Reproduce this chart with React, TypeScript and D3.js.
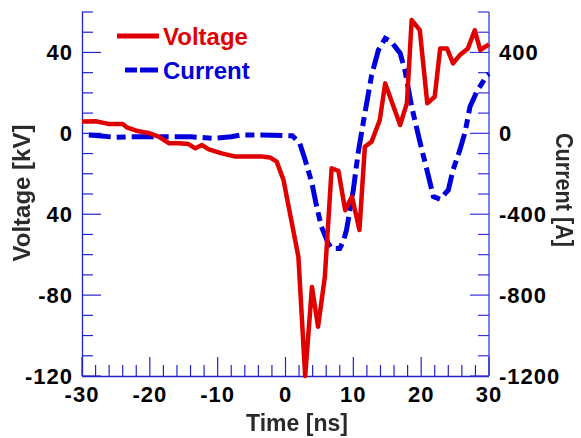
import React from "react";
import * as d3 from "d3";

const voltageTime = [-30, -28, -27, -26, -24, -23.4, -22, -20, -18.7, -17.2, -15.7, -14.3, -13.3, -12.3, -11.3, -9.4, -7.4, -3.5, -2.3, -1.3, -0.3, 0.8, 1.9, 2.9, 3.9, 4.8, 5.8, 6.8, 7.8, 8.8, 9.8, 10.9, 11.7, 12.7, 13.9, 14.7, 16.9, 17.9, 18.6, 19.8, 20.9, 22.0, 22.8, 23.8, 24.7, 25.7, 26.9, 27.9, 28.7, 30];
const voltageValues = [5.8, 6.0, 5.3, 4.6, 4.6, 3, 1.3, 0, -1.6, -4.9, -4.9, -5.3, -7.4, -5.8, -7.9, -9.9, -11.5, -11.5, -11.9, -14, -23, -42, -61, -120, -76, -95.6, -71, -17.3, -18.5, -38, -31.3, -47.8, -6.6, -4.1, 6.6, 24.7, 4.1, 14.9, 56, 51, 14.9, 18.1, 42, 42, 34.6, 38.7, 42, 51, 41.2, 44];

const currentTime = [-29, -27.5, -25, -23, -18, -14, -10.5, -8, -6.5, -3.5, 1, 2.1, 2.9, 3.9, 4.6, 5.3, 6.3, 6.8, 8, 8.5, 9, 10, 10.7, 11.5, 12.7, 13.7, 14.7, 15.6, 16.9, 17.6, 18.6, 19.8, 20.8, 21.8, 22.8, 24, 24.7, 25.7, 26.5, 27.2, 28.2, 29.7, 30];
const currentValues = [-8, -12, -20, -17, -17, -17, -25, -17, -8, -8, -12, -49, -132, -247, -363, -462, -544, -569, -569, -536, -478, -280, -99, 60, 288, 412, 470, 453, 396, 313, 132, -40, -175, -313, -326, -280, -181, -83, 10, 132, 206, 288, 295];

const xTicks = [-30, -20, -10, 0, 10, 20, 30];
const xTickLabels = ["-30", "-20", "-10", "0", "10", "20", "30"];
const vTicks = [-120, -80, -40, 0, 40];
const vTickLabels = ["-120", "-80", "40", "0", "40"];
const iTicks = [-1200, -800, -400, 0, 400];
const iTickLabels = ["-1200", "-800", "-400", "0", "400"];

const seriesNames = ["Voltage", "Current"];
const axisTitles = { x: "Time [ns]", left: "Voltage [kV]", right: "Current [A]" };

export default function App() {
  const W = 581, H = 438;
  const L = 82, R = 489, T = 12, B = 376;
  const x = d3.scaleLinear().domain([-30, 30]).range([L, R]);
  const yV = d3.scaleLinear().domain([-120, 60]).range([B, T]);
  const yI = d3.scaleLinear().domain([-1200, 600]).range([B, T]);

  const vData = voltageTime.map((t, i) => [t, voltageValues[i]] as [number, number]);
  const iData = currentTime.map((t, i) => [t, currentValues[i]] as [number, number]);

  const vLine = d3.line<[number, number]>().x(d => x(d[0])).y(d => yV(d[1]));
  const iLine = d3.line<[number, number]>().x(d => x(d[0])).y(d => yI(d[1]));

  const red = "#e00000";
  const blue = "#0000dd";
  const axisColor = "#2222cc";
  const font = "'Liberation Sans', Arial, Helvetica, sans-serif";

  const xMinor = d3.range(-30, 30.01, 2).filter(v => v % 10 !== 0);
  const vMinor = d3.range(-120, 60.01, 10).filter(v => v % 40 !== 0);
  const iMinor = d3.range(-1200, 600.01, 100).filter(v => v % 400 !== 0);

  const labelStyle = { fontFamily: font, fontWeight: 700, fontSize: 22, letterSpacing: 1, fill: "#000" } as const;
  const titleStyle = { fontFamily: font, fontWeight: 700, fontSize: 23, fill: "#2a2a2a" } as const;

  return (
    <svg width={W} height={H} style={{ position: "fixed", left: 0, top: 0, background: "#fff" }}>
      <defs>
        <filter id="blur" x="-10%" y="-10%" width="120%" height="120%">
          <feGaussianBlur stdDeviation="0.6" />
        </filter>
      </defs>
      <rect x={0} y={0} width={W} height={H} fill="#fff" />

      {/* axes */}
      <line x1={L + 0.5} y1={T} x2={L + 0.5} y2={B} stroke={axisColor} strokeWidth={1.3} />
      <line x1={R} y1={T} x2={R} y2={B} stroke="#5555e6" strokeWidth={1.5} />
      <line x1={L} y1={B + 0.5} x2={R} y2={B + 0.5} stroke={axisColor} strokeWidth={1.3} />

      {/* x ticks */}
      {xTicks.map(v => (
        <line key={"xt" + v} x1={x(v)} x2={x(v)} y1={B} y2={B - 19} stroke={axisColor} strokeWidth={1.2} />
      ))}
      {xMinor.map(v => (
        <line key={"xm" + v} x1={x(v)} x2={x(v)} y1={B} y2={B - 11} stroke={axisColor} strokeWidth={1.2} />
      ))}
      {xTicks.map((v, i) => (
        <text key={"xl" + v} x={x(v)} y={401.5} textAnchor="middle" style={labelStyle}>{xTickLabels[i]}</text>
      ))}

      {/* left ticks */}
      {vTicks.map(v => (
        <line key={"vt" + v} x1={L} x2={L + 19} y1={yV(v)} y2={yV(v)} stroke={axisColor} strokeWidth={1.2} />
      ))}
      {vMinor.map(v => (
        <line key={"vm" + v} x1={L} x2={L + 11} y1={yV(v)} y2={yV(v)} stroke={axisColor} strokeWidth={1.2} />
      ))}
      {vTicks.map((v, i) => (
        <text key={"vl" + v} x={73} y={yV(v) + 8} textAnchor="end" style={labelStyle}>{vTickLabels[i]}</text>
      ))}

      {/* right ticks */}
      {iTicks.map(v => (
        <line key={"it" + v} x1={R} x2={R - 19} y1={yI(v)} y2={yI(v)} stroke="#3333dd" strokeWidth={1.2} />
      ))}
      {iMinor.map(v => (
        <line key={"im" + v} x1={R} x2={R - 11} y1={yI(v)} y2={yI(v)} stroke="#3333dd" strokeWidth={1.2} />
      ))}
      {iTicks.map((v, i) => (
        <text key={"il" + v} x={499} y={yI(v) + 8} textAnchor="start" style={labelStyle}>{iTickLabels[i]}</text>
      ))}

      {/* series */}
      <path d={iLine(iData) || ""} fill="none" stroke={blue} strokeWidth={5} strokeDasharray="22,6,9,6" />
      <path d={vLine(vData) || ""} fill="none" stroke={red} strokeWidth={4.5} strokeLinejoin="round" />

      {/* legend */}
      <line x1={117} x2={159} y1={36} y2={36} stroke={red} strokeWidth={5} />
      <text x={163} y={45} style={{ fontFamily: font, fontWeight: 700, fontSize: 24, fill: red }}>{seriesNames[0]}</text>
      <line x1={125} x2={158} y1={70} y2={70} stroke={blue} strokeWidth={5} strokeDasharray="12,3,18,3" />
      <text x={163} y={79} style={{ fontFamily: font, fontWeight: 700, fontSize: 24, fill: blue }}>{seriesNames[1]}</text>

      {/* axis titles */}
      <g filter="url(#blur)">
        <text x={297} y={431} textAnchor="middle" style={{ ...titleStyle, fontSize: 23 }}>{axisTitles.x}</text>
        <text transform="translate(30,193) rotate(-90)" textAnchor="middle" style={titleStyle} textLength={137} lengthAdjust="spacingAndGlyphs">{axisTitles.left}</text>
        <text transform="translate(556,190) rotate(90)" textAnchor="middle" style={titleStyle} textLength={114} lengthAdjust="spacingAndGlyphs">{axisTitles.right}</text>
      </g>
    </svg>
  );
}
